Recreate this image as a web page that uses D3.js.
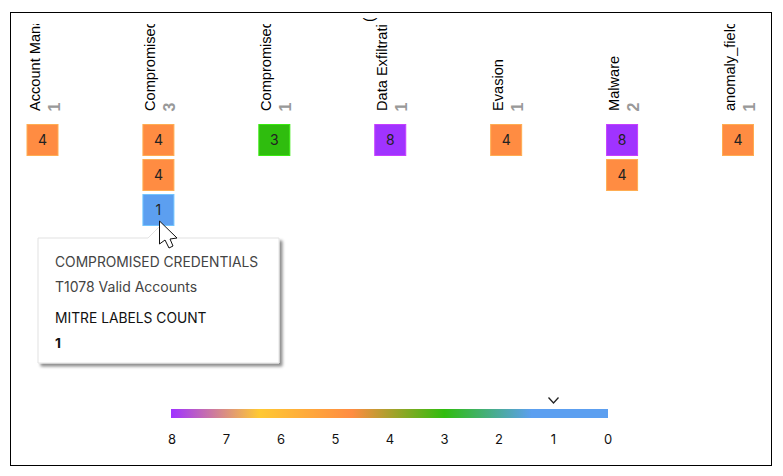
<!DOCTYPE html>
<html><head><meta charset="utf-8">
<script src="https://cdn.jsdelivr.net/npm/d3@7/dist/d3.min.js"></script>
<style>html,body{margin:0;padding:0;background:#fff;overflow:hidden}svg{display:block}</style>
</head><body><div id="c"></div>
<script>
const categories = ["Account Management","Compromised Credentials","Compromised Host","Data Exfiltration","Evasion","Malware","anomaly_field"];
const counts = [1,3,1,1,1,2,1];
const cellValues = [[4],[4,4,1],[3],[8],[4],[8,4],[4]];
const colourValues = [8,4,3,1];
const colourRange = ["#a033ff","#ff8c42","#2fbd0e","#5c9ff0"];
const legendTicks = [8,7,6,5,4,3,2,1,0];
const legendStops = [8,6.4,4.7,3,1.4,0];
const legendColours = ["#a033ff","#ffc933","#ff8c42","#2fbd0e","#5c9ff0","#5c9ff0"];
const selectedValue = 1;
const tooltipLines = ["COMPROMISED CREDENTIALS","T1078 Valid Accounts","MITRE LABELS COUNT","1"];

const W=783,H=476, FONT="Inter, sans-serif", LABEL="'Liberation Sans', Arial, sans-serif";
const svg=d3.select("#c").append("svg").attr("width",W).attr("height",H);
const defs=svg.append("defs");
svg.append("rect").attr("x",10.5).attr("y",12.5).attr("width",761).attr("height",453).attr("fill","#fff").attr("stroke","#000").attr("stroke-width",1);

const x=d3.scalePoint().domain(categories).range([26.5,722]);
const y=d3.scaleLinear().domain([0,1]).range([124,159]);
const colour=d3.scaleOrdinal().domain(colourValues).range(colourRange);
const cell=32;

defs.append("clipPath").attr("id","lab").append("rect").attr("x",0).attr("y",24).attr("width",W).attr("height",100);
defs.append("clipPath").attr("id","stray").append("rect").attr("x",0).attr("y",18).attr("width",W).attr("height",3.5);
const labels=svg.append("g").attr("clip-path","url(#lab)");
labels.selectAll("text").data(categories).join("text")
  .attr("transform",d=>`translate(${x(d)+13},111) rotate(-90)`)
  .attr("font-family",LABEL).attr("font-size",14.6).attr("fill","#000").text(d=>d);
svg.append("g").attr("clip-path","url(#stray)").append("text")
  .attr("transform",`translate(${x(categories[3])},22) rotate(-90)`)
  .attr("font-family",LABEL).attr("font-size",14.6).attr("fill","#000").text("(");
svg.append("g").selectAll("text").data(categories).join("text")
  .attr("transform",d=>`translate(${x(d)+33},111.5) rotate(-90)`)
  .attr("font-family",LABEL).attr("font-size",16).attr("font-weight","bold").attr("fill","#999")
  .text((d,i)=>counts[i]);

const cols=svg.append("g").selectAll("g").data(categories).join("g")
  .attr("transform",d=>`translate(${x(d)},0)`);
const cells=cols.selectAll("g").data((d,i)=>cellValues[i]).join("g")
  .attr("transform",(d,i)=>`translate(0,${y(i)})`);
cells.append("rect").attr("x",0.5).attr("y",0.5).attr("width",cell-1).attr("height",cell-1)
  .attr("fill",d=>colour(d)).attr("stroke",d=>d3.color(colour(d)).brighter(0.6)).attr("stroke-width",1);
cells.append("text").attr("x",cell/2).attr("y",cell/2+5).attr("text-anchor","middle")
  .attr("font-family",FONT).attr("font-size",14).attr("fill","#222").text(d=>d);

const lx=d3.scaleLinear().domain([8,0]).range([172,608]);
const grad=defs.append("linearGradient").attr("id","lg").attr("gradientUnits","userSpaceOnUse")
  .attr("x1",lx(8)).attr("x2",lx(0)).attr("y1",0).attr("y2",0);
grad.selectAll("stop").data(legendStops).join("stop")
  .attr("offset",d=>(lx(d)-lx(8))/(lx(0)-lx(8))).attr("stop-color",(d,i)=>legendColours[i]);
svg.append("rect").attr("x",lx(8)-1).attr("y",409).attr("width",lx(0)-lx(8)+1).attr("height",9).attr("fill","url(#lg)");
svg.append("g").selectAll("text").data(legendTicks).join("text")
  .attr("x",d=>lx(d)).attr("y",444).attr("text-anchor","middle")
  .attr("font-family",FONT).attr("font-size",13).attr("fill","#111").text(d=>d);
const cx=lx(selectedValue);
svg.append("path").attr("d",`M${cx-5},397.5L${cx},403L${cx+5},397.5`).attr("fill","none").attr("stroke","#222").attr("stroke-width",1.3);

const f=defs.append("filter").attr("id","sh").attr("x","-10%").attr("y","-10%").attr("width","125%").attr("height","125%");
f.append("feDropShadow").attr("dx",3).attr("dy",3).attr("stdDeviation",1.8).attr("flood-color","#000").attr("flood-opacity",0.45);
const tip=svg.append("g");
tip.append("path").attr("d","M38,238H148L160,226L172,238H279V363H38Z").attr("fill","#fff").attr("stroke","#e2e2e2").attr("filter","url(#sh)");
const ty=[267,292,323,348], tc=["#444","#444","#111","#111"], tw=[400,400,400,700], ts=[13.8,14,13.8,13.8];
tip.selectAll("text").data(tooltipLines).join("text").attr("x",55).attr("y",(d,i)=>ty[i])
  .attr("font-family",FONT).attr("font-size",(d,i)=>ts[i]).attr("fill",(d,i)=>tc[i]).attr("font-weight",(d,i)=>tw[i]).text(d=>d);

svg.append("path").attr("d","M159.5,221V244L165,240L169,248L173,246L170,239L177,238Z")
  .attr("fill","#fff").attr("stroke","#111").attr("stroke-width",1);
</script></body></html>
